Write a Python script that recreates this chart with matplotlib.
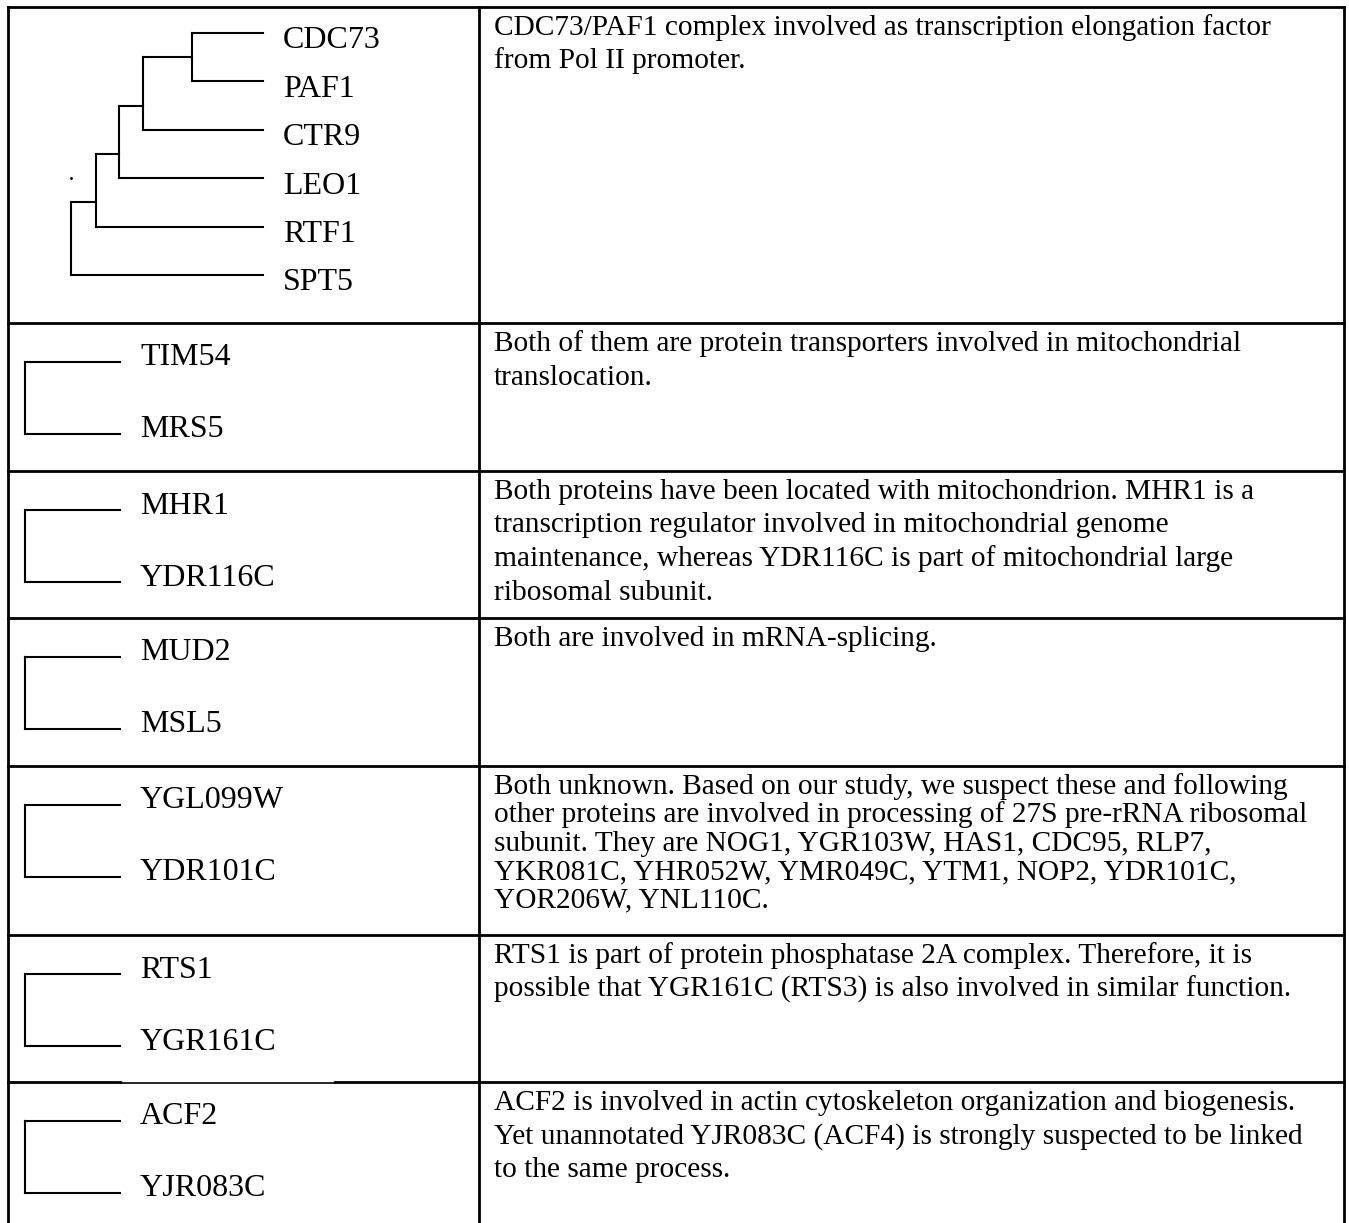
import matplotlib
matplotlib.use("Agg")
import matplotlib.pyplot as plt
from matplotlib.transforms import offset_copy

plt.rcParams["font.family"] = ["Liberation Serif", "DejaVu Serif"]

# genes in each cluster (top to bottom) and merge heights (relative distance)
groups = [
    ["CDC73", "PAF1", "CTR9", "LEO1", "RTF1", "SPT5"],
    ["TIM54", "MRS5"],
    ["MHR1", "YDR116C"],
    ["MUD2", "MSL5"],
    ["YGL099W", "YDR101C"],
    ["RTS1", "YGR161C"],
    ["ACF2", "YJR083C"],
]
merge_heights = [
    [0.37, 0.625, 0.75, 0.87, 1.0],
    [1.0], [1.0], [1.0], [1.0], [1.0], [1.0],
]
descriptions = [
    ["CDC73/PAF1 complex involved as transcription elongation factor",
     "from Pol II promoter."],
    ["Both of them are protein transporters involved in mitochondrial",
     "translocation."],
    ["Both proteins have been located with mitochondrion. MHR1 is a",
     "transcription regulator involved in mitochondrial genome",
     "maintenance, whereas YDR116C is part of mitochondrial large",
     "ribosomal subunit."],
    ["Both are involved in mRNA-splicing."],
    ["Both unknown. Based on our study, we suspect these and following",
     "other proteins are involved in processing of 27S pre-rRNA ribosomal",
     "subunit. They are NOG1, YGR103W, HAS1, CDC95, RLP7,",
     "YKR081C, YHR052W, YMR049C, YTM1, NOP2, YDR101C,",
     "YOR206W, YNL110C."],
    ["RTS1 is part of protein phosphatase 2A complex. Therefore, it is",
     "possible that YGR161C (RTS3) is also involved in similar function."],
    ["ACF2 is involved in actin cytoskeleton organization and biogenesis.",
     "Yet unannotated YJR083C (ACF4) is strongly suspected to be linked",
     "to the same process."],
]

# layout (pixels)
W, H = 1349, 1223
row_edges = [7, 323, 471, 618, 766, 935, 1082, H]
x_left, x_mid, x_right = 8, 479, 1344
text_x = 494
line_gap = [33.5, 34, 33.5, 33.5, 28.3, 34, 33.5]

fig = plt.figure(figsize=(W / 100, H / 100), dpi=100)
bg = fig.add_axes([0, 0, 1, 1])
bg.set_xlim(0, W)
bg.set_ylim(H, 0)
bg.axis("off")

lw_border = 2.0
bg.plot([x_left, x_right], [row_edges[0]] * 2, color="black", lw=lw_border, solid_capstyle="projecting")
for x in (x_left, x_mid, x_right):
    bg.plot([x, x], [row_edges[0], H], color="black", lw=lw_border, solid_capstyle="projecting")
for i, y in enumerate(row_edges[1:-1]):
    if i == 5:
        # the scanned line is thinner in one stretch here
        bg.plot([x_left, 120], [y, y], color="black", lw=lw_border)
        bg.plot([120, 335], [y + 0.5, y + 0.5], color="black", lw=1.2)
        bg.plot([335, x_right], [y, y], color="black", lw=lw_border)
    else:
        bg.plot([x_left, x_right], [y, y], color="black", lw=lw_border)

# descriptions on the right
for r, lines in enumerate(descriptions):
    top = row_edges[r]
    for j, line in enumerate(lines):
        bg.text(text_x, top + 28 + j * line_gap[r], line, fontsize=21.2,
                va="baseline", ha="left", color="black")


def draw_tree(ax, names, heights, dy):
    kw = dict(color="black", lw=1.5, solid_capstyle="projecting", clip_on=False)
    for k in range(len(names)):
        h = heights[max(k - 1, 0)]
        ax.plot([0, h], [k, k], **kw)
        tr = offset_copy(ax.transData, fig=fig, x=20, y=-dy, units="dots")
        ax.text(0, k, names[k], transform=tr, fontsize=23, va="baseline", ha="left")
    for i, h in enumerate(heights):
        top = 0 if i == 0 else i - 0.5
        ax.plot([h, h], [top, i + 1], **kw)
        if i + 1 < len(heights):
            ax.plot([h, heights[i + 1]], [i + 0.5, i + 0.5], **kw)


for r, names in enumerate(groups):
    top = row_edges[r]
    if r == 0:
        x0, x1, y0, y1, dy = 71, 263, 33, 275, 15.5
    else:
        x0, x1, y0, y1, dy = 25, 120, top + 39, top + 111, 3.5
    ax = fig.add_axes([x0 / W, 1 - y1 / H, (x1 - x0) / W, (y1 - y0) / H])
    ax.set_xlim(max(merge_heights[r]), 0)
    ax.set_ylim(len(names) - 1, 0)
    ax.axis("off")
    draw_tree(ax, names, merge_heights[r], dy)
    if r == 0:
        ax.plot(max(merge_heights[r]), 3, marker=".", ms=2, color="black", clip_on=False)

fig.savefig("out.png", dpi=100)
